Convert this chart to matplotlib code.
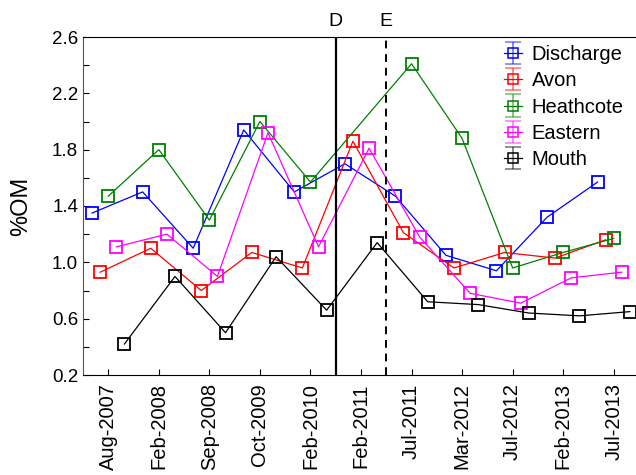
import numpy as np
import matplotlib
matplotlib.use("Agg")
import matplotlib.pyplot as plt
from matplotlib.ticker import MultipleLocator
from matplotlib.legend_handler import HandlerErrorbar

plt.rcParams['font.family'] = ['Liberation Sans', 'DejaVu Sans']

dates = ["Aug-2007", "Feb-2008", "Sep-2008", "Oct-2009", "Feb-2010", "Feb-2011",
         "Jul-2011", "Mar-2012", "Jul-2012", "Feb-2013", "Jul-2013"]

discharge = [1.35, 1.50, 1.10, 1.94, 1.50, 1.70, 1.47, 1.05, 0.94, 1.32, 1.57]
avon = [0.93, 1.10, 0.80, 1.07, 0.96, 1.86, 1.21, 0.96, 1.07, 1.03, 1.16]
heathcote = [1.47, 1.80, 1.30, 2.00, 1.57, None, 2.41, 1.88, 0.96, 1.07, 1.17]
eastern = [1.11, 1.20, 0.90, 1.92, 1.11, 1.81, 1.18, 0.78, 0.71, 0.89, 0.93]
mouth = [0.42, 0.90, 0.50, 1.04, 0.66, 1.14, 0.72, 0.70, 0.64, 0.62, 0.65]

series = [("Discharge", discharge, "#0000ff", -0.32),
          ("Avon", avon, "#ff0000", -0.16),
          ("Heathcote", heathcote, "#008000", 0.0),
          ("Eastern", eastern, "#ff00ff", 0.16),
          ("Mouth", mouth, "#000000", 0.32)]

event_d = 4.5
event_e = 5.5

fig = plt.figure(figsize=(6.36, 4.75), dpi=100)
ax = fig.add_axes([83 / 636, 100 / 475, 556 / 636, 338 / 475])

for name, vals, col, off in series:
    xs = [i + off for i, v in enumerate(vals) if v is not None]
    ys = [v for v in vals if v is not None]
    ax.plot(xs, ys, '-', color=col, lw=0.9, marker='s', ms=9,
            mfc='none', mec=col, mew=1.3)
    # legend handle in errorbar style
    ax.errorbar([np.nan], [np.nan], yerr=[0.1], fmt='s-', color=col, lw=0.9,
                ms=7, mfc='none', mec=col, mew=1.1, capsize=6,
                ecolor=matplotlib.colors.to_rgba(col, 0.55), elinewidth=1.2,
                label=name)

ax.axvline(event_d, color='black', lw=1.6)
ax.axvline(event_e, color='black', lw=1.4, ls=(0, (4, 3)))
ax.text(event_d, 2.65, "D", ha='center', va='bottom', fontsize=14)
ax.text(event_e, 2.65, "E", ha='center', va='bottom', fontsize=14)

ax.set_xlim(-0.5, 10.5)
ax.set_ylim(0.2, 2.6)
ax.set_xticks(range(len(dates)))
ax.set_xticklabels(dates, rotation=90, fontsize=14.5)
ax.yaxis.set_major_locator(MultipleLocator(0.4))
ax.yaxis.set_minor_locator(MultipleLocator(0.2))
ax.set_yticks([0.2, 0.6, 1.0, 1.4, 1.8, 2.2, 2.6])
ax.set_yticklabels(["0.2", "0.6", "1.0", "1.4", "1.8", "2.2", "2.6"], fontsize=13.5)
ax.tick_params(axis='both', which='both', direction='in', length=4, width=0.8)
ax.tick_params(axis='x', pad=6)
ax.set_ylabel("%OM", fontsize=17, labelpad=14)

ax.spines['left'].set_color('#555555')
for s in ['top', 'bottom', 'right']:
    ax.spines[s].set_color('black')

ax.legend(loc='upper left', bbox_to_anchor=(0.742, 1.0), frameon=False,
          fontsize=14.5, handlelength=0.9, handletextpad=0.5, labelspacing=0.36,
          borderaxespad=0.1, borderpad=0.3,
          handler_map={matplotlib.container.ErrorbarContainer: HandlerErrorbar(yerr_size=0.55)})

fig.savefig("out.png", dpi=100)
